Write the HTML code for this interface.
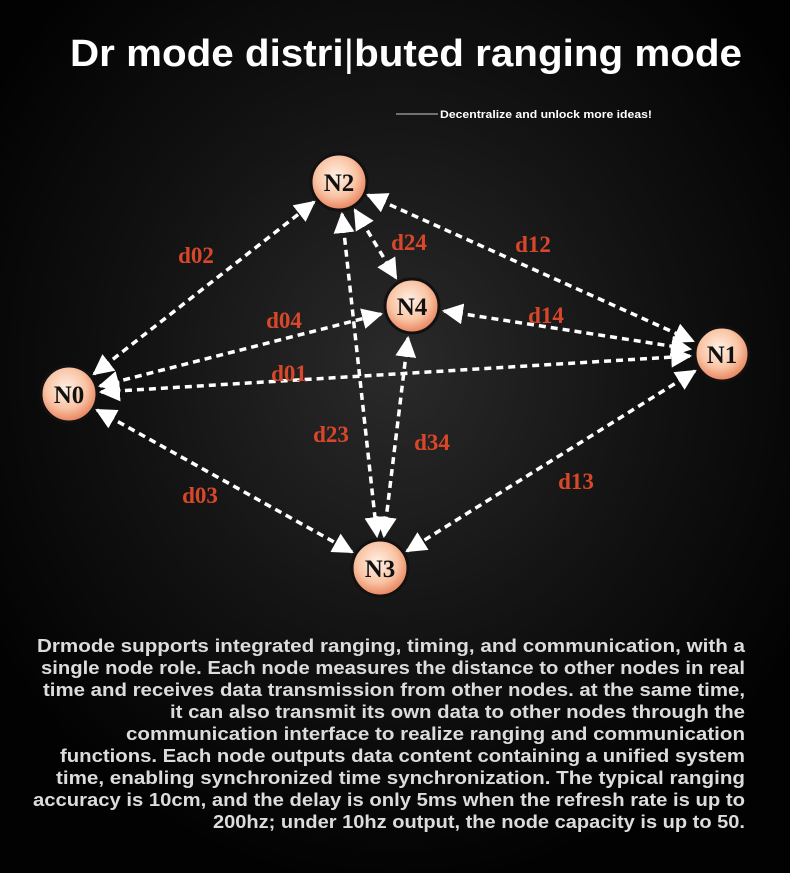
<!DOCTYPE html>
<html><head><meta charset="utf-8"><style>
html,body{margin:0;padding:0;background:#000;}
svg{display:block}
</style></head><body>
<svg width="790" height="873" viewBox="0 0 790 873" xmlns="http://www.w3.org/2000/svg">
<defs>
<radialGradient id="bg" cx="0.5" cy="0.42" r="0.6">
<stop offset="0" stop-color="#2a2a2a"/><stop offset="0.55" stop-color="#121212"/><stop offset="1" stop-color="#020202"/>
</radialGradient>
<radialGradient id="nd" cx="0.45" cy="0.4" r="0.6">
<stop offset="0" stop-color="#fff1e6"/><stop offset="0.6" stop-color="#f9c4a4"/><stop offset="1" stop-color="#e8825c"/>
</radialGradient>
<marker id="a" viewBox="0 0 10 10" refX="9" refY="5" markerWidth="6" markerHeight="6" orient="auto-start-reverse" markerUnits="strokeWidth">
<path d="M0,0 L10,5 L0,10 z" fill="#fff"/>
</marker>
</defs>
<rect width="790" height="873" fill="url(#bg)"/>
<text x="70" y="66" textLength="672" lengthAdjust="spacingAndGlyphs" font-family="Liberation Sans, sans-serif" font-weight="bold" font-size="38" fill="#fff">Dr mode distri<tspan font-weight="normal">|</tspan>buted ranging mode</text>
<line x1="396" y1="114" x2="438" y2="114" stroke="#ccc" stroke-width="1"/>
<text x="440" y="118" textLength="212" lengthAdjust="spacingAndGlyphs" font-family="Liberation Sans, sans-serif" font-weight="bold" font-size="11" fill="#fff">Decentralize and unlock more ideas!</text>
<g stroke="#fff" stroke-width="3.5" stroke-dasharray="7,5" fill="none" marker-start="url(#a)" marker-end="url(#a)">
<line x1="94" y1="374" x2="314" y2="202"/>
<line x1="100" y1="386" x2="381" y2="314"/>
<line x1="101" y1="392" x2="690" y2="356"/>
<line x1="97" y1="410" x2="352" y2="552"/>
<line x1="368" y1="195" x2="693" y2="341"/>
<line x1="355" y1="210" x2="396" y2="278"/>
<line x1="342" y1="214" x2="377" y2="536"/>
<line x1="444" y1="311" x2="690" y2="349"/>
<line x1="408" y1="338" x2="384" y2="536"/>
<line x1="695" y1="371" x2="407" y2="551"/>
</g>
<g font-family="Liberation Serif, serif" font-weight="bold" font-size="23" fill="#d9472a" text-anchor="middle">
<text x="196" y="263">d02</text><text x="409" y="250">d24</text><text x="533" y="252">d12</text>
<text x="284" y="328">d04</text><text x="546" y="323">d14</text><text x="289" y="381">d01</text>
<text x="331" y="442">d23</text><text x="432" y="450">d34</text><text x="200" y="503">d03</text>
<text x="576" y="489">d13</text>
</g>
<g stroke="#111" stroke-width="3" fill="url(#nd)">
<circle cx="339" cy="182" r="28"/><circle cx="412" cy="306" r="27"/><circle cx="722" cy="354" r="27"/>
<circle cx="69" cy="394" r="28"/><circle cx="380" cy="568" r="28"/>
</g>
<g font-family="Liberation Serif, serif" font-weight="bold" font-size="25" fill="#111" text-anchor="middle">
<text x="339" y="191">N2</text><text x="412" y="315">N4</text><text x="722" y="363">N1</text>
<text x="69" y="403">N0</text><text x="380" y="577">N3</text>
</g>
<g font-family="Liberation Sans, sans-serif" font-weight="bold" font-size="18" fill="#dcdcdc">
<text x="37" y="652" textLength="708" lengthAdjust="spacingAndGlyphs">Drmode supports integrated ranging, timing, and communication, with a</text>
<text x="41" y="674" textLength="704" lengthAdjust="spacingAndGlyphs">single node role. Each node measures the distance to other nodes in real</text>
<text x="43" y="696" textLength="702" lengthAdjust="spacingAndGlyphs">time and receives data transmission from other nodes. at the same time,</text>
<text x="170" y="718" textLength="575" lengthAdjust="spacingAndGlyphs">it can also transmit its own data to other nodes through the</text>
<text x="126" y="740" textLength="619" lengthAdjust="spacingAndGlyphs">communication interface to realize ranging and communication</text>
<text x="60" y="762" textLength="685" lengthAdjust="spacingAndGlyphs">functions. Each node outputs data content containing a unified system</text>
<text x="56" y="784" textLength="689" lengthAdjust="spacingAndGlyphs">time, enabling synchronized time synchronization. The typical ranging</text>
<text x="33" y="806" textLength="712" lengthAdjust="spacingAndGlyphs">accuracy is 10cm, and the delay is only 5ms when the refresh rate is up to</text>
<text x="213" y="828" textLength="532" lengthAdjust="spacingAndGlyphs">200hz; under 10hz output, the node capacity is up to 50.</text>
</g>
</svg>
</body></html>
